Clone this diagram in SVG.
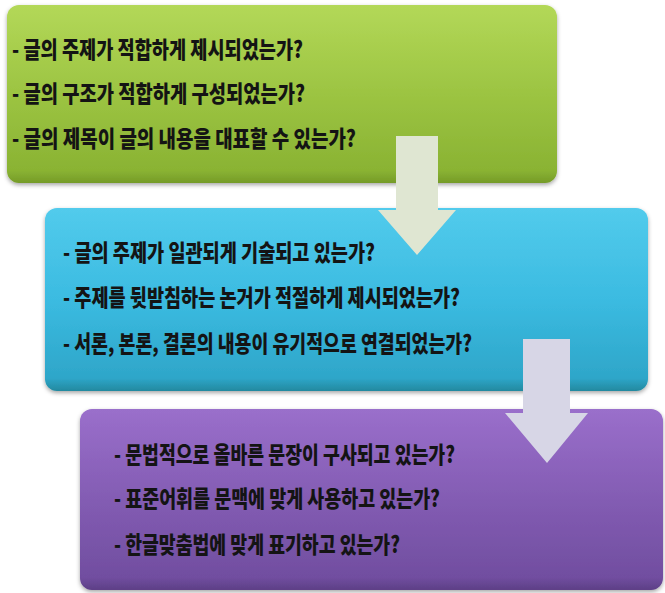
<svg xmlns="http://www.w3.org/2000/svg" width="665" height="593" viewBox="0 0 665 593">
<defs>
<linearGradient id="gGreen" x1="0" y1="0" x2="0" y2="1">
<stop offset="0" stop-color="#b3d858"/>
<stop offset="0.5" stop-color="#9cc442"/>
<stop offset="0.93" stop-color="#8ab333"/>
<stop offset="1" stop-color="#759b28"/>
</linearGradient>
<linearGradient id="gBlue" x1="0" y1="0" x2="0" y2="1">
<stop offset="0" stop-color="#52cbec"/>
<stop offset="0.5" stop-color="#3bbbe1"/>
<stop offset="0.93" stop-color="#2ea6c9"/>
<stop offset="1" stop-color="#23899f"/>
</linearGradient>
<linearGradient id="gPurple" x1="0" y1="0" x2="0" y2="1">
<stop offset="0" stop-color="#9a6fcb"/>
<stop offset="0.5" stop-color="#835cb3"/>
<stop offset="0.93" stop-color="#714ea0"/>
<stop offset="1" stop-color="#5d3f86"/>
</linearGradient>
<filter id="shadow" x="-5%" y="-5%" width="110%" height="115%">
<feDropShadow dx="0" dy="2" stdDeviation="2" flood-color="#000" flood-opacity="0.35"/>
</filter>
</defs>
<style>
.box{filter:url(#shadow);}
.t{font-family:"Noto Sans CJK KR","Noto Sans",sans-serif;font-weight:900;font-size:23px;fill:#141414;}
.a1{fill:#dfe6d2;}
.a2{fill:#d7d6e6;}
</style>
<g id="node-1">
<rect class="box" x="7" y="5" width="550" height="178" rx="12" fill="url(#gGreen)"/>
<text class="t" x="12" y="58" textLength="291" lengthAdjust="spacingAndGlyphs">- 글의 주제가 적합하게 제시되었는가?</text>
<text class="t" x="12" y="102" textLength="293" lengthAdjust="spacingAndGlyphs">- 글의 구조가 적합하게 구성되었는가?</text>
<text class="t" x="12" y="147" textLength="344" lengthAdjust="spacingAndGlyphs">- 글의 제목이 글의 내용을 대표할 수 있는가?</text>
</g>
<g id="node-2">
<rect class="box" x="45" y="208" width="603" height="183" rx="12" fill="url(#gBlue)"/>
<text class="t" x="63" y="261" textLength="312" lengthAdjust="spacingAndGlyphs">- 글의 주제가 일관되게 기술되고 있는가?</text>
<text class="t" x="63" y="306" textLength="397" lengthAdjust="spacingAndGlyphs">- 주제를 뒷받침하는 논거가 적절하게 제시되었는가?</text>
<text class="t" x="63" y="352" textLength="409" lengthAdjust="spacingAndGlyphs">- 서론, 본론, 결론의 내용이 유기적으로 연결되었는가?</text>
</g>
<g id="node-3">
<rect class="box" x="80" y="409" width="583" height="181" rx="12" fill="url(#gPurple)"/>
<text class="t" x="114" y="463" textLength="341" lengthAdjust="spacingAndGlyphs">- 문법적으로 올바른 문장이 구사되고 있는가?</text>
<text class="t" x="114" y="507" textLength="326" lengthAdjust="spacingAndGlyphs">- 표준어휘를 문맥에 맞게 사용하고 있는가?</text>
<text class="t" x="114" y="553" textLength="286" lengthAdjust="spacingAndGlyphs">- 한글맞춤법에 맞게 표기하고 있는가?</text>
</g>
<g id="connectors">
<polygon class="a1" points="396,136 438,136 438,210 456,210 417,255 378,210 396,210"/>
<polygon class="a2" points="523,339 570,339 570,413 588,413 547,463 505,413 523,413"/>
</g>
</svg>
